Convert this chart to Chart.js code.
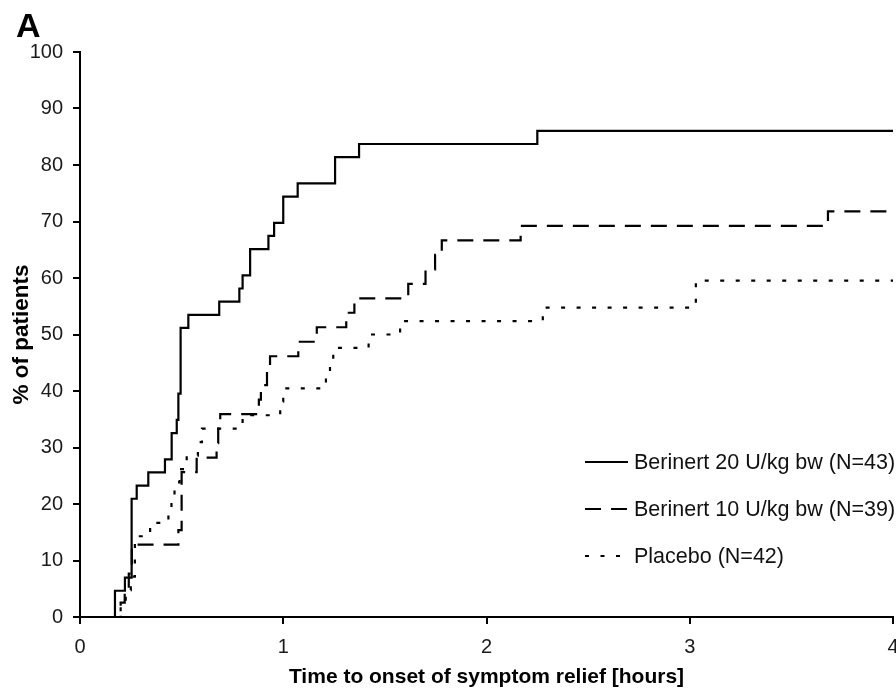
<!DOCTYPE html>
<html>
<head>
<meta charset="utf-8">
<script src="https://cdn.jsdelivr.net/npm/chart.js@4.4.0/dist/chart.umd.min.js"></script>
<style>
  html, body { margin: 0; padding: 0; background: #fff; }
  #wrap { position: relative; width: 896px; height: 690px; }
</style>
</head>
<body>
<div id="wrap"><canvas id="km" width="896" height="690"></canvas></div>
<script>
// series labels
const seriesNames = [
  "Berinert 20 U/kg bw (N=43)",
  "Berinert 10 U/kg bw (N=39)",
  "Placebo (N=42)"
];

// Berinert 20 U/kg: time of each step (hours) and % of patients reached
const highDoseHours = [0, 0.172, 0.221, 0.254, 0.279, 0.336, 0.418, 0.451, 0.476, 0.484, 0.495, 0.533,
  0.685, 0.784, 0.80, 0.837, 0.927, 0.955, 1.0, 1.071, 1.255, 1.373, 2.25, 4];
const highDosePct = [0, 4.65, 6.98, 20.93, 23.26, 25.58, 27.91, 32.56, 34.88, 39.53, 51.16, 53.49,
  55.81, 58.14, 60.47, 65.12, 67.44, 69.77, 74.42, 76.74, 81.40, 83.72, 86.05, 86.05];

// Berinert 10 U/kg
const lowDoseHours = [0, 0.20, 0.22, 0.24, 0.255, 0.484, 0.50, 0.574, 0.672, 0.68, 0.69, 0.88, 0.89,
  0.92, 0.935, 1.074, 1.165, 1.31, 1.35, 1.615, 1.70, 1.747, 1.78, 2.168, 3.68, 4];
const lowDosePct = [0, 2.56, 5.13, 7.69, 12.82, 15.38, 25.64, 28.21, 30.77, 33.33, 35.90, 38.46, 41.03,
  43.59, 46.15, 48.72, 51.28, 53.85, 56.41, 58.97, 61.54, 64.10, 66.67, 69.23, 71.79, 71.79];

// Placebo
const placeboHours = [0, 0.20, 0.225, 0.25, 0.27, 0.345, 0.435, 0.45, 0.465, 0.49, 0.525, 0.58, 0.60,
  0.80, 0.985, 1.0, 1.21, 1.23, 1.246, 1.42, 1.575, 2.277, 3.03, 4];
const placeboPct = [0, 2.38, 4.76, 7.14, 14.29, 16.67, 19.05, 21.43, 23.81, 26.19, 28.57, 30.95, 33.33,
  35.71, 38.10, 40.48, 42.86, 45.24, 47.62, 50.00, 52.38, 54.76, 59.52, 59.52];

const xTicks = [0, 1, 2, 3, 4];
const yTicks = [0, 10, 20, 30, 40, 50, 60, 70, 80, 90, 100];

const fontFamily = "'Liberation Sans', Arial, Helvetica, sans-serif";

function toPoints(hours, pct) {
  return hours.map((h, i) => ({ x: h, y: pct[i] }));
}

// legend drawn inside the plot, bottom right, like the figure
const legendSpot = { x: 585, lineLen: 43, gap: 6, firstY: 462, rowGap: 47 };
const insideLegend = {
  id: "insideLegend",
  afterDatasetsDraw(chart) {
    const ctx = chart.ctx;
    ctx.save();
    ctx.font = "21.5px " + fontFamily;
    ctx.textBaseline = "middle";
    ctx.textAlign = "left";
    chart.data.datasets.forEach((ds, i) => {
      const y = legendSpot.firstY + i * legendSpot.rowGap;
      ctx.strokeStyle = ds.borderColor;
      ctx.lineWidth = ds.borderWidth;
      ctx.setLineDash(ds.borderDash || []);
      ctx.beginPath();
      ctx.moveTo(legendSpot.x, y);
      ctx.lineTo(legendSpot.x + legendSpot.lineLen, y);
      ctx.stroke();
      ctx.setLineDash([]);
      ctx.fillStyle = "#111";
      ctx.fillText(ds.label, legendSpot.x + legendSpot.lineLen + legendSpot.gap, y + 1);
    });
    // panel letter
    ctx.font = "bold 34px " + fontFamily;
    ctx.textBaseline = "alphabetic";
    ctx.fillStyle = "#000";
    ctx.fillText("A", 16, 37);
    ctx.restore();
  }
};

const ctx = document.getElementById("km").getContext("2d");

new Chart(ctx, {
  type: "line",
  data: {
    datasets: [
      {
        label: seriesNames[0],
        data: toPoints(highDoseHours, highDosePct),
        borderColor: "#000",
        borderWidth: 2.2,
        borderDash: [],
        stepped: true,
        pointRadius: 0,
        fill: false,
      },
      {
        label: seriesNames[1],
        data: toPoints(lowDoseHours, lowDosePct),
        borderColor: "#000",
        borderWidth: 2.2,
        borderDash: [16, 10],
        stepped: true,
        pointRadius: 0,
        fill: false,
      },
      {
        label: seriesNames[2],
        data: toPoints(placeboHours, placeboPct),
        borderColor: "#000",
        borderWidth: 2.2,
        borderDash: [4, 11.5],
        stepped: true,
        pointRadius: 0,
        fill: false,
      },
    ],
  },
  options: {
    responsive: false,
    animation: false,
    layout: { padding: { left: 0, top: 52, right: 3, bottom: 0 } },
    plugins: {
      legend: { display: false },
      tooltip: { enabled: false },
    },
    scales: {
      x: {
        type: "linear",
        min: 0,
        max: 4,
        afterBuildTicks: (scale) => {
          scale.ticks = xTicks.map((v) => ({ value: v }));
        },
        ticks: {
          color: "#1a1a1a",
          padding: 11,
          font: { family: fontFamily, size: 20 },
        },
        grid: {
          drawOnChartArea: false,
          drawTicks: true,
          tickLength: 7,
          color: "#000",
          lineWidth: 2,
        },
        border: { color: "#000", width: 2 },
        title: {
          display: true,
          text: "Time to onset of symptom relief [hours]",
          color: "#000",
          font: { family: fontFamily, size: 21, weight: "bold" },
          padding: { top: 0, bottom: 0 },
        },
        afterFit: (scale) => {
          scale.height = 73;
          scale.paddingLeft = 0;
          scale.paddingRight = 0;
        },
      },
      y: {
        min: 0,
        max: 100,
        afterBuildTicks: (scale) => {
          scale.ticks = yTicks.map((v) => ({ value: v }));
        },
        ticks: {
          color: "#1a1a1a",
          padding: 10,
          font: { family: fontFamily, size: 20 },
        },
        grid: {
          drawOnChartArea: false,
          drawTicks: true,
          tickLength: 7,
          color: "#000",
          lineWidth: 2,
        },
        border: { color: "#000", width: 2 },
        title: {
          display: true,
          text: "% of patients",
          color: "#000",
          font: { family: fontFamily, size: 22.5, weight: "bold" },
          padding: { top: 8, bottom: 0 },
        },
        afterFit: (scale) => {
          scale.width = 80;
        },
      },
    },
  },
  plugins: [insideLegend],
});
</script>
</body>
</html>
